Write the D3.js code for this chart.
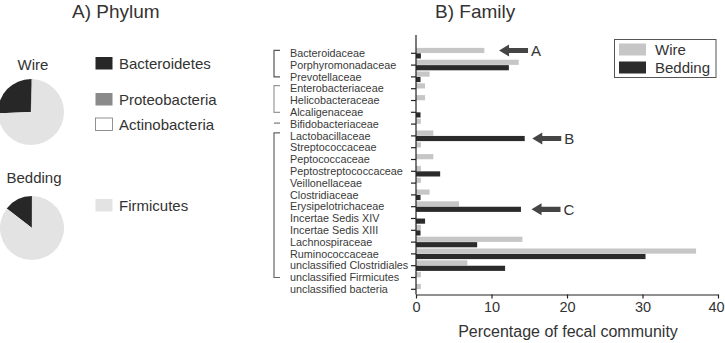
<!DOCTYPE html>
<html>
<head>
<meta charset="utf-8">
<script src="https://cdn.jsdelivr.net/npm/d3@7"></script>
<style>
  body { margin: 0; background: #fff; }
  svg { font-family: "Liberation Sans", Arial, sans-serif; display: block; }
</style>
</head>
<body>
<svg width="725" height="343"></svg>
<script>
// Phylum composition (percent)
const phyla = ['Bacteroidetes', 'Proteobacteria', 'Actinobacteria', 'Firmicutes'];
const wirePhylum = [25.6, 0.6, 0.3, 73.5];
const beddingPhylum = [14.5, 0.1, 0, 85.4];

// Family level (percent of fecal community)
const families = [
  'Bacteroidaceae', 'Porphyromonadaceae', 'Prevotellaceae', 'Enterobacteriaceae',
  'Helicobacteraceae', 'Alcaligenaceae', 'Bifidobacteriaceae', 'Lactobacillaceae',
  'Streptococcaceae', 'Peptococcaceae', 'Peptostreptococcaceae', 'Veillonellaceae',
  'Clostridiaceae', 'Erysipelotrichaceae', 'Incertae Sedis XIV', 'Incertae Sedis XIII',
  'Lachnospiraceae', 'Ruminococcaceae', 'unclassified Clostridiales',
  'unclassified Firmicutes', 'unclassified bacteria'
];
const wireFamily = [9.05, 13.6, 1.8, 1.2, 1.2, 0, 0.65, 2.3, 0.65, 2.3, 0.65, 0.65,
  1.8, 5.7, 0, 0.65, 14.1, 37.1, 6.8, 0.65, 0.65];
const beddingFamily = [0.65, 12.3, 0.6, 0, 0, 0.6, 0, 14.4, 0, 0, 3.2, 0,
  0.6, 13.9, 1.2, 0.6, 8.1, 30.4, 11.8, 0, 0];
const xTicks = [0, 10, 20, 30, 40];

// phylum brackets: first and last family index
const brackets = [[0, 2, '#555'], [3, 5, '#999'], [6, 6, '#777'], [7, 19, '#666']];
// arrows: family, tip position (x units), letter
const arrows = [
  { family: 'Bacteroidaceae', series: 'Wire', tip: 11, label: 'A' },
  { family: 'Lactobacillaceae', series: 'Bedding', tip: 15.4, label: 'B' },
  { family: 'Erysipelotrichaceae', series: 'Bedding', tip: 15.3, label: 'C' }
];

const colors = {
  Bacteroidetes: '#272727', Proteobacteria: '#8a8a8a',
  Actinobacteria: '#ffffff', Firmicutes: '#e3e3e3'
};
const wireColor = '#c6c6c6', beddingColor = '#2b2b2b';

const svg = d3.select('svg');

// ---------- A) Phylum ----------
svg.append('text').attr('x', 72).attr('y', 18).attr('font-size', 19).attr('fill', '#333')
  .text('A) Phylum');

function drawPie(values, cx, cy, r, label, labelY) {
  const total = d3.sum(values);
  const start = -2 * Math.PI * values[0] / total;
  const pie = d3.pie().sort(null).startAngle(start).endAngle(start + 2 * Math.PI);
  const arc = d3.arc().innerRadius(0).outerRadius(r);
  const g = svg.append('g').attr('transform', `translate(${cx},${cy})`);
  g.selectAll('path').data(pie(values)).join('path')
    .attr('d', arc)
    .attr('fill', (d, i) => colors[phyla[i]])
    .attr('stroke', (d, i) => phyla[i] === 'Actinobacteria' ? '#aaa' : 'none')
    .attr('stroke-width', 0.3);
  svg.append('text').attr('x', cx + 2).attr('y', labelY).attr('text-anchor', 'middle')
    .attr('font-size', 15).attr('fill', '#333').text(label);
}
drawPie(wirePhylum, 31, 112, 33, 'Wire', 70);
drawPie(beddingPhylum, 32, 228, 32, 'Bedding', 183);

const legendY = { Bacteroidetes: 57, Proteobacteria: 93, Actinobacteria: 118, Firmicutes: 199 };
phyla.forEach(p => {
  svg.append('rect').attr('x', 95.5).attr('y', legendY[p]).attr('width', 17).attr('height', 12.5)
    .attr('fill', colors[p])
    .attr('stroke', p === 'Actinobacteria' ? '#777' : 'none').attr('stroke-width', 0.8);
  svg.append('text').attr('x', 119).attr('y', legendY[p] + 11.5).attr('font-size', 15)
    .attr('fill', '#333').text(p);
});

// ---------- B) Family ----------
svg.append('text').attr('x', 435).attr('y', 18).attr('font-size', 19).attr('fill', '#333')
  .text('B) Family');

const x = d3.scaleLinear().domain([0, 40]).range([416, 718]);
const y = d3.scalePoint().domain(families).range([53.3, 289.3]);
const inner = d3.scaleBand().domain(['Wire', 'Bedding']).range([-5.4, 5.2]).paddingInner(0.05);

const rows = families.map((f, i) => ({ family: f, Wire: wireFamily[i], Bedding: beddingFamily[i] }));
const bars = svg.append('g');
rows.forEach(r => {
  ['Wire', 'Bedding'].forEach(s => {
    if (r[s] <= 0) return;
    bars.append('rect')
      .attr('x', x(0)).attr('y', y(r.family) + inner(s))
      .attr('width', x(r[s]) - x(0)).attr('height', inner.bandwidth())
      .attr('fill', s === 'Wire' ? wireColor : beddingColor);
  });
});

// y axis with ticks only
const yAxis = svg.append('g').attr('transform', `translate(${x(0)},0)`);
yAxis.append('line').attr('y1', 35).attr('y2', 294.5).attr('stroke', '#222').attr('stroke-width', 1.2);
yAxis.selectAll('.tk').data(families).join('line')
  .attr('x1', -5).attr('x2', 0).attr('y1', d => y(d)).attr('y2', d => y(d))
  .attr('stroke', '#222').attr('stroke-width', 1.2);

svg.append('g').selectAll('text').data(families).join('text')
  .attr('x', 290).attr('y', d => y(d) + 3.7).attr('font-size', 10.8).attr('fill', '#3a3a3a')
  .text(d => d);

// brackets
brackets.forEach(([a, b, c]) => {
  const y0 = y(families[a]) - 2, y1 = y(families[b]) - 1;
  if (a === b) {
    svg.append('line').attr('x1', 274).attr('x2', 280).attr('y1', y0 + 1).attr('y2', y0 + 1)
      .attr('stroke', c).attr('stroke-width', 1.2);
  } else {
    svg.append('path').attr('d', `M280,${y0 - 1}H274V${y1 + 1}H280`)
      .attr('fill', 'none').attr('stroke', c).attr('stroke-width', 1.2);
  }
});

// x axis
const xAxis = svg.append('g').attr('transform', 'translate(0,294.5)')
  .call(d3.axisBottom(x).tickValues(xTicks).tickSize(4).tickPadding(3).tickSizeOuter(0));
xAxis.select('.domain').attr('stroke', '#222').attr('stroke-width', 1.2);
xAxis.selectAll('.tick line').attr('stroke', '#222').attr('stroke-width', 1.2);
xAxis.selectAll('.tick text').attr('font-size', 14.5).attr('fill', '#333')
  .attr('font-family', '"Liberation Sans", Arial, sans-serif');
// keep the last tick label inside the window
xAxis.selectAll('.tick text').filter(d => d === 40).attr('dx', -2);
svg.append('text').attr('x', 568).attr('y', 337).attr('text-anchor', 'middle')
  .attr('font-size', 16).attr('fill', '#333').text('Percentage of fecal community');

// arrows
arrows.forEach(a => {
  const cy = y(a.family) + inner(a.series) + inner.bandwidth() / 2;
  const tx = x(a.tip);
  const len = 29, head = 10;
  svg.append('path')
    .attr('d', `M${tx},${cy} L${tx + head},${cy - 6} L${tx + head},${cy - 2.6} L${tx + len},${cy - 2.6}
      L${tx + len},${cy + 2.6} L${tx + head},${cy + 2.6} L${tx + head},${cy + 6} Z`)
    .attr('fill', '#454545');
  svg.append('text').attr('x', tx + len + 3).attr('y', cy + 5.5).attr('font-size', 15)
    .attr('fill', '#333').text(a.label);
});

// series legend
const lg = svg.append('g');
lg.append('rect').attr('x', 614.5).attr('y', 39.5).attr('width', 101.5).attr('height', 38)
  .attr('fill', 'none').attr('stroke', '#555').attr('stroke-width', 1);
[['Wire', wireColor, 43.5], ['Bedding', beddingColor, 61.5]].forEach(([t, c, yy]) => {
  lg.append('rect').attr('x', 619).attr('y', yy).attr('width', 27).attr('height', 12).attr('fill', c);
  lg.append('text').attr('x', 655).attr('y', yy + 11.5).attr('font-size', 15).attr('fill', '#333').text(t);
});
</script>
</body>
</html>
